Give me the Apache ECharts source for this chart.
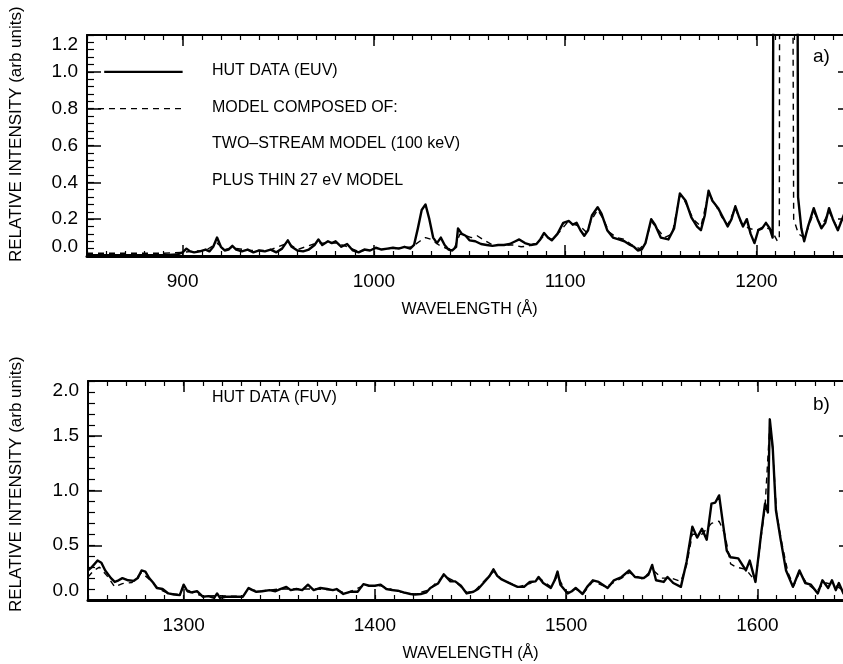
<!DOCTYPE html>
<html>
<head>
<meta charset="utf-8">
<script src="https://cdn.jsdelivr.net/npm/echarts@6/dist/echarts.min.js"></script>
<style>
  html, body { margin: 0; padding: 0; background: #fff; }
  #chart { width: 843px; height: 664px; }
</style>
</head>
<body>
<div id="chart"></div>
<script>
// ---- Panel a): EUV spectrum (wavelength in Angstrom, relative intensity) ----
const wlEuv = [850, 860, 870, 880, 890, 897, 900, 902, 904, 906, 909, 912, 914, 916, 918, 920, 922, 924, 926, 928,
  931, 934, 937, 940, 943, 946, 949, 952, 955, 957, 960, 963, 966, 969, 971, 973, 976, 978, 980, 983,
  986, 989, 992, 995, 998, 1001, 1004, 1007, 1010, 1013, 1016, 1019, 1021, 1023, 1025, 1027, 1029, 1031, 1033, 1035,
  1037, 1039, 1041, 1043, 1044, 1046, 1048, 1050, 1053, 1056, 1059, 1062, 1065, 1068, 1071, 1074, 1076, 1079, 1082, 1085,
  1087, 1089, 1091, 1093, 1096, 1099, 1102, 1104, 1106, 1108, 1110, 1112, 1114, 1117, 1119, 1122, 1125, 1128, 1131, 1134,
  1136, 1138, 1140, 1142, 1145, 1147, 1150, 1154, 1157, 1160, 1163, 1166, 1169, 1171, 1173, 1175, 1177, 1180, 1182, 1185,
  1187, 1189, 1191, 1193, 1195, 1197, 1199, 1201, 1203, 1205, 1207, 1208.5, 1209.3, 1221.2, 1221.8, 1223.5, 1225, 1227, 1230, 1232,
  1234, 1236, 1238, 1240, 1242.6, 1246, 1250];
const hutEuv = [0.005, 0.005, 0.005, 0.005, 0.005, 0.008, 0.02, 0.04, 0.025, 0.02, 0.025, 0.035, 0.025, 0.05, 0.10, 0.05, 0.03, 0.035, 0.055, 0.035,
  0.025, 0.035, 0.02, 0.03, 0.025, 0.035, 0.02, 0.04, 0.085, 0.05, 0.03, 0.025, 0.035, 0.06, 0.09, 0.06, 0.08, 0.07, 0.08, 0.05,
  0.065, 0.03, 0.02, 0.035, 0.03, 0.045, 0.035, 0.04, 0.045, 0.04, 0.05, 0.04, 0.06, 0.15, 0.25, 0.28, 0.20, 0.10, 0.07, 0.10,
  0.06, 0.035, 0.03, 0.05, 0.15, 0.12, 0.11, 0.085, 0.08, 0.065, 0.06, 0.055, 0.06, 0.06, 0.065, 0.08, 0.09, 0.07, 0.06, 0.065,
  0.09, 0.125, 0.10, 0.085, 0.12, 0.18, 0.19, 0.17, 0.18, 0.14, 0.11, 0.14, 0.22, 0.265, 0.23, 0.14, 0.10, 0.09, 0.08, 0.06,
  0.05, 0.03, 0.035, 0.07, 0.20, 0.17, 0.10, 0.09, 0.15, 0.34, 0.30, 0.21, 0.16, 0.14, 0.22, 0.355, 0.30, 0.26, 0.22, 0.16,
  0.20, 0.27, 0.21, 0.16, 0.20, 0.12, 0.07, 0.14, 0.15, 0.18, 0.15, 0.10, 3.0, 3.0, 0.32, 0.15, 0.08, 0.16, 0.26, 0.20,
  0.15, 0.18, 0.26, 0.20, 0.14, 0.23, 0.18];

const wlEuvModel = [850, 870, 890, 900, 905, 912, 918, 922, 926, 935, 945, 955, 960, 970, 976, 981, 986, 992, 1000, 1010,
  1020, 1024, 1027, 1030, 1034, 1038, 1042, 1045, 1048, 1051, 1054, 1057, 1062, 1068, 1073, 1077, 1081, 1085, 1089, 1093,
  1097, 1101, 1105, 1108, 1111, 1114, 1117, 1120, 1123, 1127, 1131, 1135, 1139, 1142, 1145, 1148, 1152, 1156, 1160, 1163,
  1167, 1171, 1175, 1178, 1182, 1185, 1189, 1192, 1196, 1200, 1204, 1208, 1211, 1212, 1212.3, 1218.6, 1219.5, 1222, 1225, 1227,
  1230, 1234, 1238, 1242, 1246, 1250];
const modelEuv = [0.015, 0.015, 0.015, 0.02, 0.025, 0.03, 0.07, 0.035, 0.045, 0.03, 0.03, 0.07, 0.035, 0.07, 0.07, 0.07, 0.05, 0.025, 0.04, 0.04,
  0.05, 0.08, 0.10, 0.09, 0.06, 0.04, 0.04, 0.12, 0.11, 0.10, 0.11, 0.09, 0.06, 0.06, 0.06, 0.05, 0.055, 0.07, 0.11, 0.09,
  0.13, 0.18, 0.17, 0.16, 0.13, 0.20, 0.25, 0.20, 0.13, 0.10, 0.09, 0.06, 0.04, 0.07, 0.19, 0.15, 0.10, 0.12, 0.33, 0.29,
  0.20, 0.16, 0.34, 0.29, 0.21, 0.17, 0.26, 0.18, 0.15, 0.14, 0.16, 0.14, 0.08, 0.10, 3.0, 3.0, 0.20, 0.12, 0.10, 0.15,
  0.24, 0.16, 0.24, 0.16, 0.21, 0.18];

// ---- Panel b): FUV spectrum ----
const wlFuv = [1250, 1252, 1255, 1257, 1259, 1262, 1264, 1266, 1268, 1271, 1274, 1276, 1278, 1280, 1282, 1284, 1286, 1289, 1292, 1295,
  1298, 1300, 1302, 1304, 1307, 1310, 1313, 1316, 1317.5, 1319, 1322, 1325, 1328, 1331, 1334, 1336, 1338, 1341, 1345, 1348,
  1350.5, 1353.7, 1356, 1359, 1362, 1365, 1368, 1371.5, 1375, 1378, 1380, 1383.5, 1387, 1391, 1394, 1397, 1400, 1403, 1406, 1409,
  1412, 1415, 1418.6, 1421, 1424, 1427, 1429, 1433, 1436, 1439.5, 1442, 1445, 1448, 1451.5, 1454, 1457, 1460, 1462, 1464, 1466,
  1469, 1472, 1474.6, 1478, 1481, 1484, 1485.6, 1488, 1492, 1494, 1495.5, 1497, 1500.8, 1503, 1505, 1508.6, 1511, 1514, 1517, 1521.7,
  1525, 1529, 1533, 1536, 1540.6, 1543, 1545, 1547, 1551, 1553, 1556, 1560, 1563, 1566, 1568.5, 1571, 1573.5, 1576, 1578, 1580,
  1582, 1584, 1586, 1590, 1594, 1596, 1599, 1602, 1604, 1605.5, 1606.5, 1608, 1609.7, 1612, 1615, 1618.6, 1622, 1625, 1628, 1631.6,
  1634, 1637, 1639, 1641, 1642.6, 1645, 1648, 1650];
const hutFuv = [0.27, 0.30, 0.36, 0.34, 0.27, 0.20, 0.165, 0.18, 0.20, 0.18, 0.175, 0.20, 0.27, 0.26, 0.20, 0.16, 0.11, 0.10, 0.06, 0.05,
  0.045, 0.14, 0.08, 0.07, 0.08, 0.03, 0.035, 0.02, 0.06, 0.02, 0.03, 0.03, 0.03, 0.03, 0.11, 0.09, 0.075, 0.08, 0.09, 0.08,
  0.10, 0.12, 0.09, 0.10, 0.09, 0.14, 0.09, 0.11, 0.10, 0.09, 0.10, 0.055, 0.075, 0.075, 0.145, 0.13, 0.13, 0.14, 0.10, 0.09,
  0.085, 0.07, 0.055, 0.05, 0.055, 0.07, 0.11, 0.15, 0.235, 0.17, 0.17, 0.13, 0.06, 0.075, 0.10, 0.16, 0.22, 0.28, 0.22, 0.19,
  0.165, 0.14, 0.12, 0.12, 0.165, 0.17, 0.21, 0.155, 0.11, 0.18, 0.26, 0.14, 0.06, 0.08, 0.11, 0.055, 0.12, 0.18, 0.165, 0.11,
  0.18, 0.21, 0.27, 0.21, 0.20, 0.23, 0.32, 0.18, 0.165, 0.21, 0.155, 0.12, 0.35, 0.67, 0.57, 0.65, 0.55, 0.88, 0.89, 0.955,
  0.70, 0.45, 0.39, 0.38, 0.27, 0.36, 0.165, 0.61, 0.88, 0.80, 1.65, 1.40, 0.82, 0.57, 0.27, 0.12, 0.27, 0.155, 0.14, 0.06,
  0.18, 0.11, 0.18, 0.09, 0.155, 0.06, 0.08, 0.07];

const wlFuvModel = [1250, 1253, 1256, 1260, 1264, 1268, 1273, 1278, 1282, 1287, 1292, 1298, 1300, 1304, 1310, 1318, 1325, 1331, 1334, 1340,
  1350, 1360, 1370, 1380, 1385, 1394, 1403, 1412, 1420, 1428, 1436, 1442, 1448, 1452, 1462, 1467, 1475, 1481, 1486, 1492,
  1495.5, 1500, 1505, 1509, 1514, 1521, 1529, 1533, 1540, 1545, 1550, 1555, 1560, 1563, 1566, 1571, 1576, 1580, 1583, 1586,
  1589, 1594, 1599, 1602, 1604, 1606.5, 1608, 1610, 1613, 1616, 1619, 1622, 1626, 1631, 1635, 1640, 1645, 1650];
const modelFuv = [0.21, 0.27, 0.30, 0.22, 0.12, 0.15, 0.16, 0.25, 0.19, 0.10, 0.06, 0.05, 0.12, 0.07, 0.035, 0.04, 0.035, 0.035, 0.10, 0.08,
  0.10, 0.10, 0.10, 0.09, 0.06, 0.13, 0.13, 0.08, 0.05, 0.09, 0.22, 0.17, 0.07, 0.08, 0.26, 0.18, 0.12, 0.15, 0.20, 0.12,
  0.22, 0.07, 0.10, 0.06, 0.17, 0.12, 0.20, 0.25, 0.19, 0.28, 0.20, 0.20, 0.17, 0.32, 0.60, 0.60, 0.70, 0.72, 0.60, 0.33,
  0.30, 0.28, 0.17, 0.58, 0.85, 1.60, 1.38, 0.80, 0.50, 0.25, 0.13, 0.25, 0.15, 0.08, 0.16, 0.14, 0.09, 0.08];

// Axis ranges and tick labels
const xRangeEuv = [850, 1250];
const xRangeFuv = [1250, 1650];
const xTicksEuv = [900, 1000, 1100, 1200];
const xTicksFuv = [1300, 1400, 1500, 1600];
const yTicksEuv = [0.0, 0.2, 0.4, 0.6, 0.8, 1.0, 1.2];
const yTicksFuv = [0.0, 0.5, 1.0, 1.5, 2.0];

// Legend keys (panel a)
const legendSolidKey = [[859, 1.0], [900, 1.0]];
const legendDashKey = [[850, 0.8], [900, 0.8]];

const pairs = (xs, ys) => xs.map((x, i) => [x, ys[i]]);

const FONT = '"Liberation Sans", Arial, Helvetica, sans-serif';
const INK = '#000';

// Four x axes per panel: labelled bottom + mirrored top (major ticks), and two
// unlabelled companions carrying the 10 A minor ticks.
function xAxesFor(gridIndex, range, ticks) {
  const common = { gridIndex, type: 'value', min: range[0], max: range[1], splitLine: { show: false } };
  const major = {
    show: true, inside: true, length: 11, customValues: ticks,
    lineStyle: { color: INK, width: 1.5 }
  };
  const minor = Object.assign({}, common, {
    interval: 10,
    axisLine: { show: false, onZero: false }, axisLabel: { show: false },
    axisTick: { show: true, inside: true, length: 5, lineStyle: { color: INK, width: 1.2 } }
  });
  return [
    Object.assign({}, common, {
      position: 'bottom', interval: 100,
      axisLine: { show: true, onZero: false, lineStyle: { color: INK, width: 3 } },
      axisTick: major,
      axisLabel: {
        show: true, margin: 16, color: INK, fontFamily: FONT, fontSize: 19,
        customValues: ticks, formatter: v => String(Math.round(v))
      },
      name: 'WAVELENGTH (\u00c5)', nameLocation: 'middle', nameGap: 46,
      nameTextStyle: { color: INK, fontFamily: FONT, fontSize: 16 }
    }),
    Object.assign({}, common, {
      position: 'top', interval: 100,
      axisLine: { show: true, onZero: false, lineStyle: { color: INK, width: 2 } },
      axisTick: major, axisLabel: { show: false }
    }),
    Object.assign({}, minor, { position: 'bottom' }),
    Object.assign({}, minor, { position: 'top' })
  ];
}

function yAxesFor(gridIndex, max, interval, minorInterval, ticks) {
  const common = { gridIndex, type: 'value', min: 0, max, splitLine: { show: false } };
  const major = {
    show: true, inside: true, length: 14, customValues: ticks,
    lineStyle: { color: INK, width: 1.5 }
  };
  const minor = Object.assign({}, common, {
    interval: minorInterval,
    axisLine: { show: false, onZero: false }, axisLabel: { show: false },
    axisTick: { show: true, inside: true, length: 7, lineStyle: { color: INK, width: 1.2 } }
  });
  return [
    Object.assign({}, common, {
      position: 'left', interval,
      axisLine: { show: true, onZero: false, lineStyle: { color: INK, width: 2 } },
      axisTick: major,
      axisLabel: {
        show: true, margin: 9, color: INK, fontFamily: FONT, fontSize: 19,
        customValues: ticks, formatter: v => v.toFixed(1),
        verticalAlignMinLabel: 'bottom', verticalAlignMaxLabel: 'top'
      }
    }),
    Object.assign({}, common, {
      position: 'right', interval,
      axisLine: { show: true, onZero: false, lineStyle: { color: INK, width: 2 } },
      axisTick: major, axisLabel: { show: false }
    }),
    Object.assign({}, minor, { position: 'left' }),
    Object.assign({}, minor, { position: 'right' })
  ];
}

function lineSeries(axisIndex, data, dashed) {
  return {
    type: 'line', xAxisIndex: axisIndex, yAxisIndex: axisIndex, data,
    showSymbol: false, symbol: 'none', clip: true, silent: true,
    z: dashed ? 2 : 3,
    lineStyle: dashed
      ? { color: INK, width: 1.4, type: [6, 5] }
      : { color: INK, width: 2.4, join: 'round' }
  };
}

const label = (text, x, y, size) => ({
  type: 'text', left: x, top: y,
  style: { text, fill: INK, font: `${size}px ${FONT}` }
});

const yTitle = (y) => ({
  type: 'text', x: 8, y, rotation: Math.PI / 2,
  style: { text: 'RELATIVE INTENSITY (arb units)', fill: INK, font: `17px ${FONT}`, textVerticalAlign: 'top' }
});

const chart = echarts.init(document.getElementById('chart'), null, { renderer: 'canvas' });
chart.setOption({
  animation: false,
  backgroundColor: '#fff',
  grid: [
    { left: 87, top: 35, width: 765, height: 221, containLabel: false, outerBoundsMode: 'none' },
    { left: 88, top: 381, width: 765, height: 219, containLabel: false, outerBoundsMode: 'none' }
  ],
  xAxis: [...xAxesFor(0, xRangeEuv, xTicksEuv), ...xAxesFor(1, xRangeFuv, xTicksFuv)],
  yAxis: [...yAxesFor(0, 1.2, 0.2, 0.04, yTicksEuv), ...yAxesFor(1, 2.0, 0.5, 0.1, yTicksFuv)],
  series: [
    lineSeries(0, pairs(wlEuvModel, modelEuv), true),
    lineSeries(0, pairs(wlEuv, hutEuv), false),
    lineSeries(0, legendDashKey, true),
    lineSeries(0, legendSolidKey, false),
    lineSeries(4, pairs(wlFuvModel, modelFuv), true),
    lineSeries(4, pairs(wlFuv, hutFuv), false)
  ],
  graphic: [
    label('HUT DATA (EUV)', 212, 63, 16),
    label('MODEL COMPOSED OF:', 212, 100, 16),
    label('TWO\u2013STREAM MODEL (100 keV)', 212, 136, 16),
    label('PLUS THIN 27 eV MODEL', 212, 173, 16),
    label('a)', 813, 47, 19),
    label('HUT DATA (FUV)', 212, 390, 16),
    label('b)', 813, 395, 19),
    yTitle(262),
    yTitle(612)
  ]
});
</script>
</body>
</html>
